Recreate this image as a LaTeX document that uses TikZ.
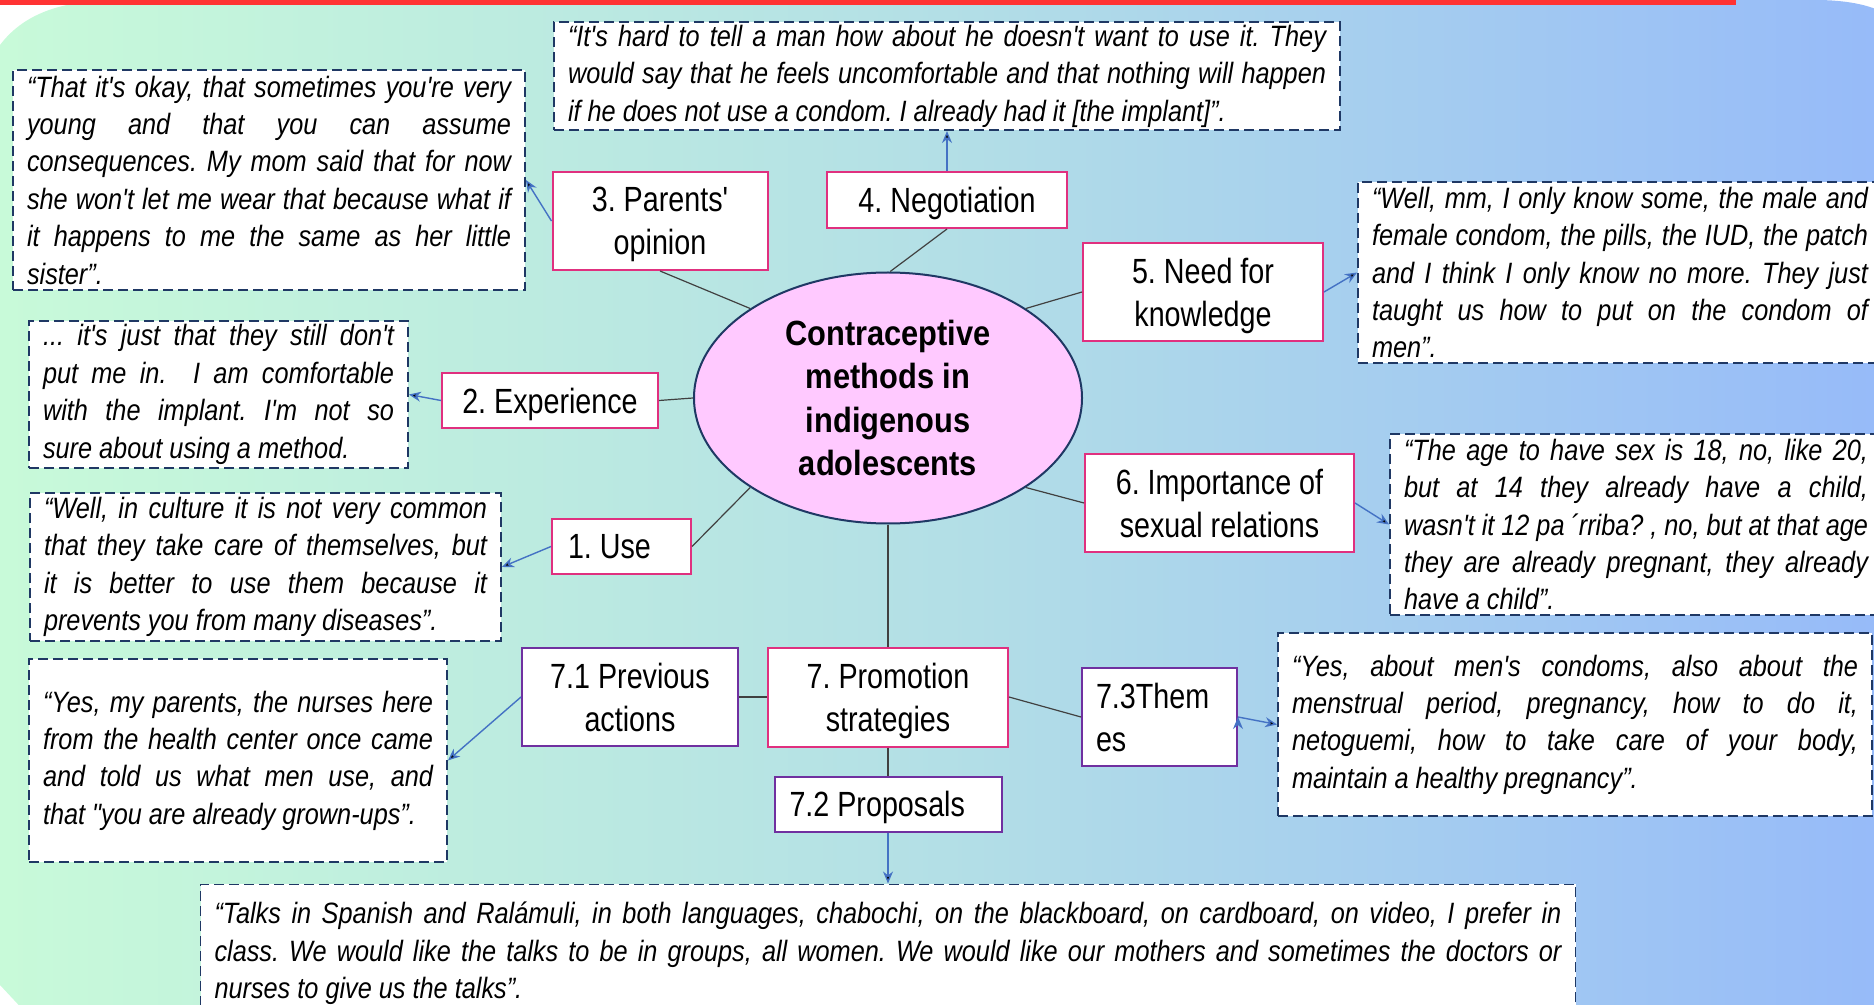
\documentclass[tikz,border=0pt]{standalone}
\usepackage{fontspec}
\usepackage{tikz}
\usetikzlibrary{arrows.meta,positioning,shapes.geometric}
\newfontfamily\narrowsans[FakeStretch=0.82]{Liberation Sans}
\newfontfamily\titlesans[FakeStretch=0.88]{Liberation Sans}
\newfontfamily\quotesans[FakeStretch=0.86]{Liberation Sans}
\definecolor{bgleft}{HTML}{C8FAD9}
\definecolor{bgmid}{HTML}{B3DFE6}
\definecolor{bgright}{HTML}{96BAF9}
\definecolor{topbar}{HTML}{FF3333}
\definecolor{pinkline}{HTML}{E0307F}
\definecolor{purpleline}{HTML}{7030A0}
\definecolor{navyline}{HTML}{1F3864}
\definecolor{bluearrow}{HTML}{4472C4}
\definecolor{ellipsefill}{HTML}{FFC9FF}
\definecolor{linkgray}{HTML}{404040}
\frenchspacing
\hyphenpenalty=10000
\exhyphenpenalty=10000
\tikzset{
    %Define standard arrow tip
    >={Stealth[length=6pt,width=5pt]},
    %Define style for the centre
    methods/.style={
           ellipse,
           draw=navyline, line width=1pt,
           fill=ellipsefill,
           minimum width=194pt,
           minimum height=125.5pt,
           inner sep=0pt,
           font=\titlesans\bfseries\fontsize{17.5}{21.7}\selectfont,
           align=flush center},
    %Define style for boxes
    theme/.style={
           rectangle,
           draw=pinkline, line width=1pt,
           fill=white,
           inner sep=0pt,
           text depth=0pt,
           font=\narrowsans\fontsize{17.5}{21.5}\selectfont,
           align=flush center},
    subtheme/.style={
           theme,
           draw=purpleline},
    quote/.style={
           rectangle,
           draw=navyline, line width=0.9pt,
           dash pattern=on 5pt off 2.5pt,
           fill=white,
           inner xsep=7pt, inner ysep=0pt,
           font=\quotesans\itshape\fontsize{14.7}{18.7}\selectfont,
           align=justify},
    % Define line styles
    link/.style={
           draw=linkgray,
           line width=0.6pt},
    pil/.style={
           ->,
           draw=bluearrow,
           line width=0.7pt}
}

\begin{document}
\begin{tikzpicture}[x=0.5pt,y=-0.5pt,node distance=14pt]
\useasboundingbox (0,0) rectangle (1874,1005);
% background
\shade[left color=bgleft,right color=bgright,middle color=bgmid]
	(0,45) .. controls (25,12) and (65,0) .. (120,0) -- (1815,0)
	.. controls (1850,0) and (1874,6) .. (1890,16) -- (1890,1015)
	-- (28,1015) -- (0,985) -- cycle;
\fill[topbar] (0,0) rectangle (1736,5);

\node[methods](c) at (888,398){Contraceptive\\methods in\\indigenous\\adolescents};
\node[theme,minimum width=107.5pt,minimum height=49pt](t3) at (660,221){3. Parents'\\opinion};
\node[theme,minimum width=120pt,minimum height=28pt](t4) at (947,200){4. Negotiation};
\node[theme,minimum width=120pt,minimum height=49pt](t5) at (1203,292){5. Need for\\knowledge};
\node[theme,minimum width=108pt,minimum height=27.5pt](t2) at (550,400.5){2. Experience};
\node[theme,minimum width=134.5pt,minimum height=49pt](t6) at (1219.5,503){6. Importance of\\sexual relations};
\node[theme,minimum width=69.5pt,minimum height=27.5pt,text width=53.5pt,align=flush left](t1) at (621.5,546.5){1. Use};
\node[theme,minimum width=120pt,minimum height=49.5pt](t7) at (888,697){7. Promotion\\strategies};
\node[subtheme,minimum width=108pt,minimum height=49pt,left=of t7](t71){7.1 Previous\\actions};
\node[subtheme,minimum width=113.5pt,minimum height=27.5pt,text width=98.5pt,align=flush left,below=of t7](t72){7.2 Proposals};
\node[subtheme,minimum width=77.5pt,minimum height=49pt,text width=63.5pt,text depth=21.5pt,align=flush left](t73) at (1159.5,717){7.3Them\\es};

\node[quote,text width=242pt,minimum height=110pt](q3) at (269,180){“That it's okay, that sometimes you're very\linebreak young and that you can assume\linebreak consequences. My mom said that for now\linebreak she won't let me wear that because what if\linebreak it happens to me the same as her little\linebreak sister”.};
\node[quote,text width=379pt,minimum height=54pt,above=20pt of t4](q4){“It's hard to tell a man how about he doesn't want to use it. They\linebreak would say that he feels uncomfortable and that nothing will happen\linebreak if he does not use a condom. I already had it [the implant]”.};
\node[quote,text width=248pt,minimum height=90.5pt](q5) at (1620,272.5){“Well, mm, I only know some, the male and\linebreak female condom, the pills, the IUD, the patch\linebreak and I think I only know no more. They just\linebreak taught us how to put on the condom of\linebreak men”.};
\node[quote,text width=175.5pt,minimum height=73.5pt](q2) at (218.5,394.5){... it's just that they still don't\linebreak put me in.\ \ I am comfortable\linebreak with the implant. I'm not so\linebreak sure about using a method.};
\node[quote,text width=232pt,minimum height=90.5pt](q6) at (1636,524.5){“The age to have sex is 18, no, like 20,\linebreak but at 14 they already have a child,\linebreak wasn't it 12 pa\kern0.2em´rriba? , no, but at that age\linebreak they are already pregnant, they already\linebreak have a child”.};
\node[quote,text width=221.5pt,minimum height=74pt](q1) at (265.5,567){“Well, in culture it is not very common\linebreak that they take care of themselves, but\linebreak it is better to use them because it\linebreak prevents you from many diseases”.};
\node[quote,text width=195pt,minimum height=101.5pt](q71) at (238,760.5){“Yes, my parents, the nurses here\linebreak from the health center once came\linebreak and told us what men use, and\linebreak that "you are already grown-ups”.};
\node[quote,text width=283pt,minimum height=91.5pt](q73) at (1575,724.5){“Yes, about men's condoms, also about the\linebreak menstrual period, pregnancy, how to do it,\linebreak netoguemi, how to take care of your body,\linebreak maintain a healthy pregnancy”.};
\node[quote,text width=673.5pt,minimum height=69pt,below=25.5pt of t72](q72){“Talks in Spanish and Ralámuli, in both languages, chabochi, on the blackboard, on cardboard, on video, I prefer in\linebreak class. We would like the talks to be in groups, all women. We would like our mothers and sometimes the doctors or\linebreak nurses to give us the talks”.};

\path[link]
	(c.147) edge (t3.south)
	(c.89) edge (t4.south)
	(c.33) edge (t5.west)
	(c.west) edge (t2.east)
	(c.327) edge (t6.west)
	(c.213) edge (t1.east)
	(c.south) edge (t7.north);
\path[link]
	(t7.west) edge (t71.east)
	(t7.south) edge (t72.north)
	(t7.east) edge (t73.west);
\path[pil]
	(t3.west) edge (q3.east)
	(t4.north) edge (q4.south)
	(t5.east) edge (q5.west)
	(t2.west) edge (q2.east)
	(t6.east) edge (q6.west)
	(t1.west) edge (q1.east)
	(t71.west) edge (q71.east)
	(t72.south) edge (q72.north)
	(t73.east) edge (q73.west);
\end{tikzpicture}
\end{document}
